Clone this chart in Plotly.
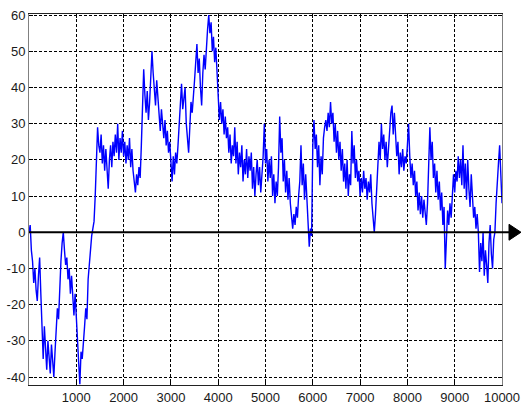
import plotly.graph_objects as go

# Random-walk path, sampled every 25 steps over 0..10000
step_index = list(range(0, 10001, 25))
walk_values = [
    # 0 - 475
    0, 2, -5, -8, -14, -10, -16, -19, -12, -7, -17, -24, -35, -26, -32, -38, -30, -34, -39, -31,
    # 500 - 975
    -36, -40, -33, -26, -21, -24, -14, -8, -3, 0, -5, -9, -7, -13, -10, -17, -12, -19, -23, -17,
    # 1000 - 1475
    -25, -30, -36, -42, -33, -35, -29, -26, -21, -24, -13, -8, -4, -1, 1, 3, 10, 20, 29, 24,
    # 1500 - 1975
    22, 27, 19, 24, 17, 23, 18, 12, 20, 24, 18, 25, 21, 27, 22, 30, 20, 26, 22, 28,
    # 2000 - 2475
    21, 25, 19, 24, 20, 26, 18, 23, 17, 14, 11, 16, 13, 18, 15, 24, 34, 45, 38, 33,
    # 2500 - 2975
    39, 31, 36, 43, 50, 44, 40, 35, 42, 37, 33, 28, 34, 30, 26, 31, 24, 28, 22, 25,
    # 3000 - 3475
    18, 14, 21, 16, 22, 19, 24, 30, 36, 41, 34, 38, 40, 30, 25, 22, 29, 36, 33, 39,
    # 3500 - 3975
    42, 47, 52, 44, 48, 40, 35, 44, 49, 45, 52, 56, 60, 55, 58, 50, 54, 47, 51, 44,
    # 4000 - 4475
    38, 31, 36, 30, 34, 27, 32, 26, 29, 22, 27, 19, 24, 21, 29, 19, 25, 16, 22, 18,
    # 4500 - 4975
    24, 14, 20, 16, 23, 15, 21, 17, 22, 12, 18, 10, 16, 20, 13, 18, 11, 16, 21, 30,
    # 5000 - 5475
    19, 23, 14, 20, 15, 21, 10, 16, 8, 14, 10, 18, 32, 22, 26, 14, 20, 11, 17, 9,
    # 5500 - 5975
    15, 8, 4, 1, 5, 2, 7, 4, 10, 14, 24, 13, 19, 9, 16, 8, 3, -4, 1, -1,
    # 6000 - 6475
    24, 31, 23, 27, 18, 24, 13, 21, 16, 26, 29, 31, 28, 33, 29, 36, 30, 33, 25, 30,
    # 6500 - 6975
    22, 28, 20, 25, 17, 23, 14, 19, 12, 20, 10, 16, 13, 28, 19, 24, 15, 20, 14, 17,
    # 7000 - 7475
    10, 15, 11, 17, 12, 15, 9, 14, 11, 16, 8, 4, 0, 5, 12, 19, 25, 20, 30, 23,
    # 7500 - 7975
    27, 20, 25, 18, 24, 28, 33, 35, 27, 33, 26, 21, 25, 16, 22, 18, 23, 17, 21, 19,
    # 8000 - 8475
    24, 30, 21, 15, 19, 13, 17, 10, 14, 6, 11, 5, 10, 4, 9, 6, 2, 8, 17, 29,
    # 8500 - 8975
    20, 25, 15, 19, 11, 17, 9, 14, 6, 11, 2, 7, -10, 0, 6, 2, 8, 4, 12, 16,
    # 9000 - 9475
    11, 17, 14, 21, 15, 20, 13, 24, 12, 19, 9, 20, 12, 7, 16, 8, 4, 7, 1, 5,
    # 9500 - 9975
    0, -11, -3, -8, 0, -12, -5, -9, -14, -3, 2, -6, -10, -2, 0, 8, 15, 19, 24, 17,
    # 10000
    8,
]

x_tick_vals = [1000, 2000, 3000, 4000, 5000, 6000, 7000, 8000, 9000, 10000]
x_tick_text = ["1000", "2000", "3000", "4000", "5000", "6000", "7000", "8000", "9000", "10000"]
y_tick_vals = [-40, -30, -20, -10, 0, 10, 20, 30, 40, 50, 60]
y_tick_text = ["-40", "-30", "-20", "-10", "0", "10", "20", "30", "40", "50", "60"]

fig = go.Figure()
fig.add_trace(go.Scatter(
    x=step_index,
    y=walk_values,
    mode="lines",
    line=dict(color="#0000ff", width=1.4),
    hoverinfo="skip",
    showlegend=False,
))

tick_font = dict(family="Liberation Sans, Arial, sans-serif", size=13, color="#1a1a1a")

fig.update_layout(
    width=521,
    height=404,
    margin=dict(l=29, r=19, t=14, b=19, autoexpand=False),
    paper_bgcolor="white",
    plot_bgcolor="white",
    xaxis=dict(
        range=[0, 10000],
        tickmode="array",
        tickvals=x_tick_vals,
        ticktext=x_tick_text,
        ticks="inside",
        ticklen=4,
        tickcolor="#000000",
        showline=True,
        linecolor="#222222",
        linewidth=1,
        mirror="ticks",
        showgrid=True,
        gridcolor="#000000",
        gridwidth=1,
        griddash="3px,2px",
        zeroline=False,
        automargin=False,
        tickfont=tick_font,
        fixedrange=True,
    ),
    yaxis=dict(
        range=[-42.2, 60.3],
        tickmode="array",
        tickvals=y_tick_vals,
        ticktext=y_tick_text,
        ticks="inside",
        ticklen=4,
        tickcolor="#000000",
        showline=True,
        linecolor="#808080",
        linewidth=1,
        mirror="ticks",
        showgrid=True,
        gridcolor="#000000",
        gridwidth=1,
        griddash="3px,2px",
        zeroline=False,
        automargin=False,
        tickfont=tick_font,
        fixedrange=True,
    ),
    shapes=[
        # horizontal zero axis running past the plot edge
        dict(type="line", xref="paper", yref="y", x0=0, x1=1.02, y0=0, y1=0,
             line=dict(color="#000000", width=2), layer="above"),
        # arrowhead at the right end of the zero axis
        dict(type="path", xref="paper", yref="y",
             path="M 1.0148,2.2 L 1.0402,0 L 1.0148,-2.2 Z",
             fillcolor="#000000", line=dict(color="#000000", width=1), layer="above"),
    ],
)

fig.write_html("out.html")
